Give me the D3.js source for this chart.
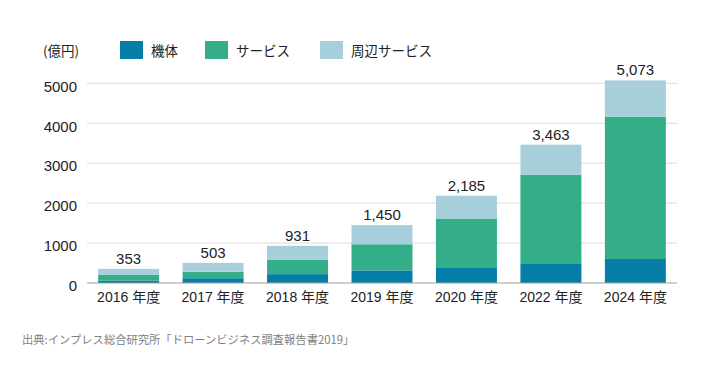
<!DOCTYPE html>
<html><head><meta charset="utf-8">
<script src="https://cdn.jsdelivr.net/npm/d3@7"></script>
<style>body{margin:0;background:#fff}svg{display:block}</style>
</head><body>
<svg id="c" width="720" height="365"></svg>
<script>
const categories = ["2016 年度","2017 年度","2018 年度","2019 年度","2020 年度","2022 年度","2024 年度"];
const kitai      = [60, 120, 222, 315, 394, 494, 600];
const service    = [150, 160, 362, 655, 1221, 2212, 3565];
const shuhen     = [143, 223, 347, 480, 570, 757, 908];
const totals     = [353, 503, 931, 1450, 2185, 3463, 5073];
const seriesNames = ["機体","サービス","周辺サービス"];
const yTicks = [0, 1000, 2000, 3000, 4000, 5000];
const colors = ["#047ea6", "#33ae88", "#a7cfdb"];

const font = "'Liberation Sans','Noto Sans CJK JP',sans-serif";
const cjk = "'Noto Sans CJK JP','Noto Sans',sans-serif";
const svg = d3.select("#c");
const x = d3.scaleBand().domain(categories).range([87, 677]).paddingInner(0.278).paddingOuter(0.132);
const y = d3.scaleLinear().domain([0, 5000]).range([283, 83.3]);

const rows = categories.map((c,i)=>({cat:c, k:kitai[i], s:service[i], h:shuhen[i]}));
const stack = d3.stack().keys(["k","s","h"])(rows);

// grid
svg.append("g").selectAll("line").data(yTicks.filter(t=>t>0)).join("line")
  .attr("x1",87).attr("x2",677).attr("y1",d=>y(d)).attr("y2",d=>y(d))
  .attr("stroke","#dcdcdc").attr("stroke-width",1);

// bars
svg.append("g").selectAll("g").data(stack).join("g").attr("fill",(d,i)=>colors[i])
  .selectAll("rect").data(d=>d).join("rect")
  .attr("x",d=>x(d.data.cat)).attr("width",x.bandwidth())
  .attr("y",d=>y(d[1])).attr("height",d=>y(d[0])-y(d[1]));

// baseline
svg.append("line").attr("x1",87).attr("x2",677).attr("y1",y(0)).attr("y2",y(0))
  .attr("stroke","#a0a0a0").attr("stroke-width",1.2);

// y axis labels
const yAxis = d3.axisLeft(y).tickValues(yTicks).tickSize(0).tickPadding(0).tickFormat(d3.format("d"));
const ga = svg.append("g").attr("transform","translate(77,0)").call(yAxis);
ga.select(".domain").remove();
ga.selectAll("text").attr("font-family",font).attr("font-size",15).attr("fill","#222").attr("dy","0.32em")
  .attr("transform","translate(0,3)");

// x axis labels
const xAxis = d3.axisBottom(x).tickSize(0).tickPadding(0);
const gx = svg.append("g").attr("transform","translate(0,292)").call(xAxis);
gx.select(".domain").remove();
gx.selectAll("text").attr("font-family",font).attr("font-size",14).attr("fill","#222").attr("dy","0.7em");

// totals
svg.append("g").selectAll("text").data(totals).join("text")
  .attr("x",(d,i)=>x(categories[i])+x.bandwidth()/2).attr("y",d=>y(d)-5)
  .attr("text-anchor","middle").attr("font-family",font).attr("font-size",15).attr("fill","#222")
  .text(d=>d3.format(",")(d));

// legend
svg.append("text").attr("x",43).attr("y",55.5).attr("font-family",cjk).attr("font-size",13.5).attr("fill","#222").text("(億円)");
const lx = [120, 205, 320];
const lg = svg.append("g").selectAll("g").data(seriesNames).join("g").attr("transform",(d,i)=>`translate(${lx[i]},41)`);
lg.append("rect").attr("width",23).attr("height",18).attr("fill",(d,i)=>colors[i]);
lg.append("text").attr("x",31).attr("y",14.5).attr("font-family",cjk).attr("font-size",13.5).attr("fill","#222").text(d=>d);

// source
svg.append("text").attr("x",22).attr("y",344).attr("font-family",cjk).attr("font-size",11.3).attr("fill","#808080")
  .text("出典:インプレス総合研究所「ドローンビジネス調査報告書2019」");
</script>
</body></html>
